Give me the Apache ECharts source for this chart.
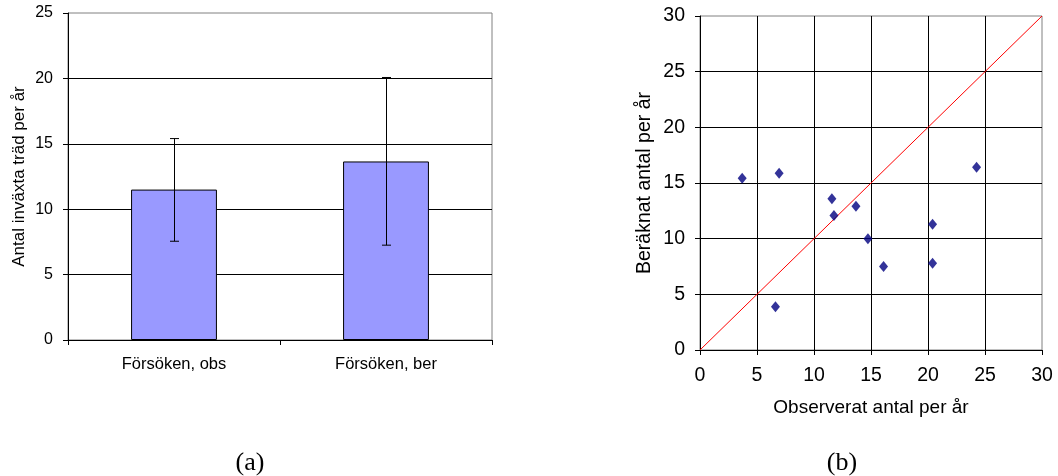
<!DOCTYPE html>
<html><head><meta charset="utf-8">
<script src="https://cdn.jsdelivr.net/npm/echarts@6/dist/echarts.min.js"></script>
<style>html,body{margin:0;padding:0;background:#fff}#c{width:1058px;height:476px}</style>
</head><body><div id="c"></div>
<script>
// Left chart (a)
const barCategories = ['Försöken, obs', 'Försöken, ber'];
const barValues = [11.5, 13.65];
const errLow = [7.55, 7.25];
const errHigh = [15.4, 20.07];
const leftYTicks = [0, 5, 10, 15, 20, 25];
// Right chart (b)
const obsX = [3.7, 6.94, 11.57, 11.75, 13.68, 14.73, 16.1, 20.4, 20.4, 24.26, 6.62];
const berY = [15.42, 15.87, 13.58, 12.08, 12.92, 10.0, 7.5, 11.29, 7.8, 16.41, 3.88];
const identityLine = [[0, 0], [30, 30]];
const rightTicks = [0, 5, 10, 15, 20, 25, 30];

const FONT = '"Liberation Sans", Arial, sans-serif';
const SERIF = '"Liberation Serif", "Times New Roman", serif';
const chart = echarts.init(document.getElementById('c'));
const scatterData = obsX.map((x, i) => [x, berY[i]]);
const errData = barCategories.map((c, i) => [i, errLow[i], errHigh[i]]);

chart.setOption({
  animation: false,
  backgroundColor: '#fff',
  grid: [
    {left: 68, top: 13, width: 424, height: 327, show: true, borderColor: '#808080', borderWidth: 1, backgroundColor: 'transparent'},
    {left: 700, top: 16, width: 342, height: 334, show: true, borderColor: '#808080', borderWidth: 1, backgroundColor: 'transparent'}
  ],
  xAxis: [
    {type: 'category', gridIndex: 0, data: barCategories, boundaryGap: true,
     axisLine: {lineStyle: {color: '#000', width: 1}},
     axisTick: {show: true, alignWithLabel: false, length: 5, lineStyle: {color: '#000'}},
     axisLabel: {color: '#000', fontFamily: FONT, fontSize: 16.5, margin: 16},
     splitLine: {show: false}},
    {type: 'value', gridIndex: 1, min: rightTicks[0], max: rightTicks[rightTicks.length - 1], interval: 5,
     name: 'Observerat antal per år', nameLocation: 'middle', nameGap: 48,
     nameTextStyle: {color: '#000', fontFamily: FONT, fontSize: 19},
     axisLine: {onZero: false, lineStyle: {color: '#000'}},
     axisTick: {show: true, length: 5, lineStyle: {color: '#000'}},
     axisLabel: {color: '#000', fontFamily: FONT, fontSize: 19.5, margin: 16},
     splitLine: {show: true, showMinLine: false, showMaxLine: false, lineStyle: {color: '#000', width: 1}}}
  ],
  yAxis: [
    {type: 'value', gridIndex: 0, min: leftYTicks[0], max: leftYTicks[leftYTicks.length - 1], interval: 5,
     name: 'Antal inväxta träd per år', nameLocation: 'middle', nameGap: 40,
     nameTextStyle: {color: '#000', fontFamily: FONT, fontSize: 17},
     axisLine: {show: true, lineStyle: {color: '#000'}},
     axisTick: {show: true, length: 5, lineStyle: {color: '#000'}},
     axisLabel: {color: '#000', fontFamily: FONT, fontSize: 16, margin: 15},
     splitLine: {show: true, showMinLine: false, showMaxLine: false, lineStyle: {color: '#000', width: 1}}},
    {type: 'value', gridIndex: 1, min: rightTicks[0], max: rightTicks[rightTicks.length - 1], interval: 5,
     name: 'Beräknat antal per år', nameLocation: 'middle', nameGap: 45,
     nameTextStyle: {color: '#000', fontFamily: FONT, fontSize: 19.5},
     axisLine: {show: true, onZero: false, lineStyle: {color: '#000'}},
     axisTick: {show: true, length: 5, lineStyle: {color: '#000'}},
     axisLabel: {color: '#000', fontFamily: FONT, fontSize: 19.5, margin: 15},
     splitLine: {show: true, showMinLine: false, showMaxLine: false, lineStyle: {color: '#000', width: 1}}}
  ],
  series: [
    {type: 'bar', xAxisIndex: 0, yAxisIndex: 0, data: barValues, barWidth: '40.5%',
     itemStyle: {color: '#9999FF', borderColor: '#000', borderWidth: 1}, z: 2},
    {type: 'custom', xAxisIndex: 0, yAxisIndex: 0, data: errData, z: 5,
     renderItem: function (params, api) {
       const x = api.value(0);
       const lo = api.coord([x, api.value(1)]);
       const hi = api.coord([x, api.value(2)]);
       const cx = Math.round(lo[0]) + 0.5;
       const w = 4.5;
       const st = {stroke: '#000', lineWidth: 1};
       return {type: 'group', children: [
         {type: 'line', shape: {x1: cx, y1: hi[1], x2: cx, y2: lo[1]}, style: st},
         {type: 'line', shape: {x1: cx - w, y1: hi[1], x2: cx + w, y2: hi[1]}, style: st},
         {type: 'line', shape: {x1: cx - w, y1: lo[1], x2: cx + w, y2: lo[1]}, style: st}
       ]};
     }},
    {type: 'line', xAxisIndex: 1, yAxisIndex: 1, data: identityLine, showSymbol: false, symbol: 'none',
     lineStyle: {color: '#FF0000', width: 1}, z: 3},
    {type: 'scatter', xAxisIndex: 1, yAxisIndex: 1, data: scatterData, symbol: 'diamond', symbolSize: [9, 11],
     itemStyle: {color: '#000080'}, z: 4}
  ],
  graphic: [
    {type: 'text', style: {x: 250, y: 463, text: '(a)', align: 'center', verticalAlign: 'middle', fontFamily: SERIF, fontSize: 26, fill: '#000'}},
    {type: 'text', style: {x: 842, y: 463, text: '(b)', align: 'center', verticalAlign: 'middle', fontFamily: SERIF, fontSize: 26, fill: '#000'}}
  ]
});
</script></body></html>
